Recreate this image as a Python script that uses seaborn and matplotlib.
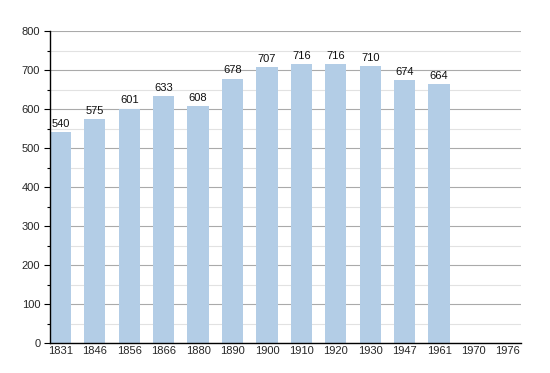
import matplotlib
matplotlib.use("Agg")
import matplotlib.pyplot as plt
import seaborn as sns
import pandas as pd
import numpy as np
from matplotlib.ticker import MultipleLocator

years = ['1831', '1846', '1856', '1866', '1880', '1890', '1900', '1910',
         '1920', '1930', '1947', '1961', '1970', '1976']
population = [540, 575, 601, 633, 608, 678, 707, 716, 716, 710, 674, 664,
              np.nan, np.nan]

df = pd.DataFrame({"year": years, "pop": population})

sns.set_theme(style="white")
plt.rcParams['font.family'] = ['Liberation Sans', 'DejaVu Sans']

fig = plt.figure(figsize=(5.5, 3.73), dpi=100)
ax = fig.add_axes([50 / 550, 1 - 343 / 373, 471 / 550, 312 / 373])

sns.barplot(data=df, x="year", y="pop", color="#b3cde6", saturation=1,
            width=0.62, linewidth=0, edgecolor="none", ax=ax, zorder=3)

# value labels
for i, v in enumerate(population):
    if not np.isnan(v):
        ax.text(i, v + 8, f"{int(v)}", ha="center", va="bottom",
                fontsize=8, color="#111111", zorder=4)

ax.set_ylim(0, 800)
ax.set_xlim(-0.3, 13.38)
ax.yaxis.set_major_locator(MultipleLocator(100))
ax.yaxis.set_minor_locator(MultipleLocator(50))
ax.grid(axis="y", which="major", color="#aaaaaa", linewidth=0.8, zorder=0)
ax.grid(axis="y", which="minor", color="#e2e2e2", linewidth=0.8, zorder=0)
ax.set_axisbelow(True)

for s in ["top", "right"]:
    ax.spines[s].set_visible(False)
ax.spines["left"].set_color("black")
ax.spines["bottom"].set_color("black")
ax.spines["left"].set_linewidth(1.0)
ax.spines["bottom"].set_linewidth(1.0)
ax.spines["left"].set_zorder(5)
ax.spines["bottom"].set_zorder(5)

ax.tick_params(axis="y", which="major", left=True, length=4, width=0.8,
               labelsize=8, pad=3, color="black")
ax.tick_params(axis="y", which="minor", left=True, length=2, width=0.8,
               color="black")
ax.tick_params(axis="x", bottom=False, length=0, labelsize=8, pad=2)
ax.set_xlabel("")
ax.set_ylabel("")

plt.savefig("out.png", dpi=100)
